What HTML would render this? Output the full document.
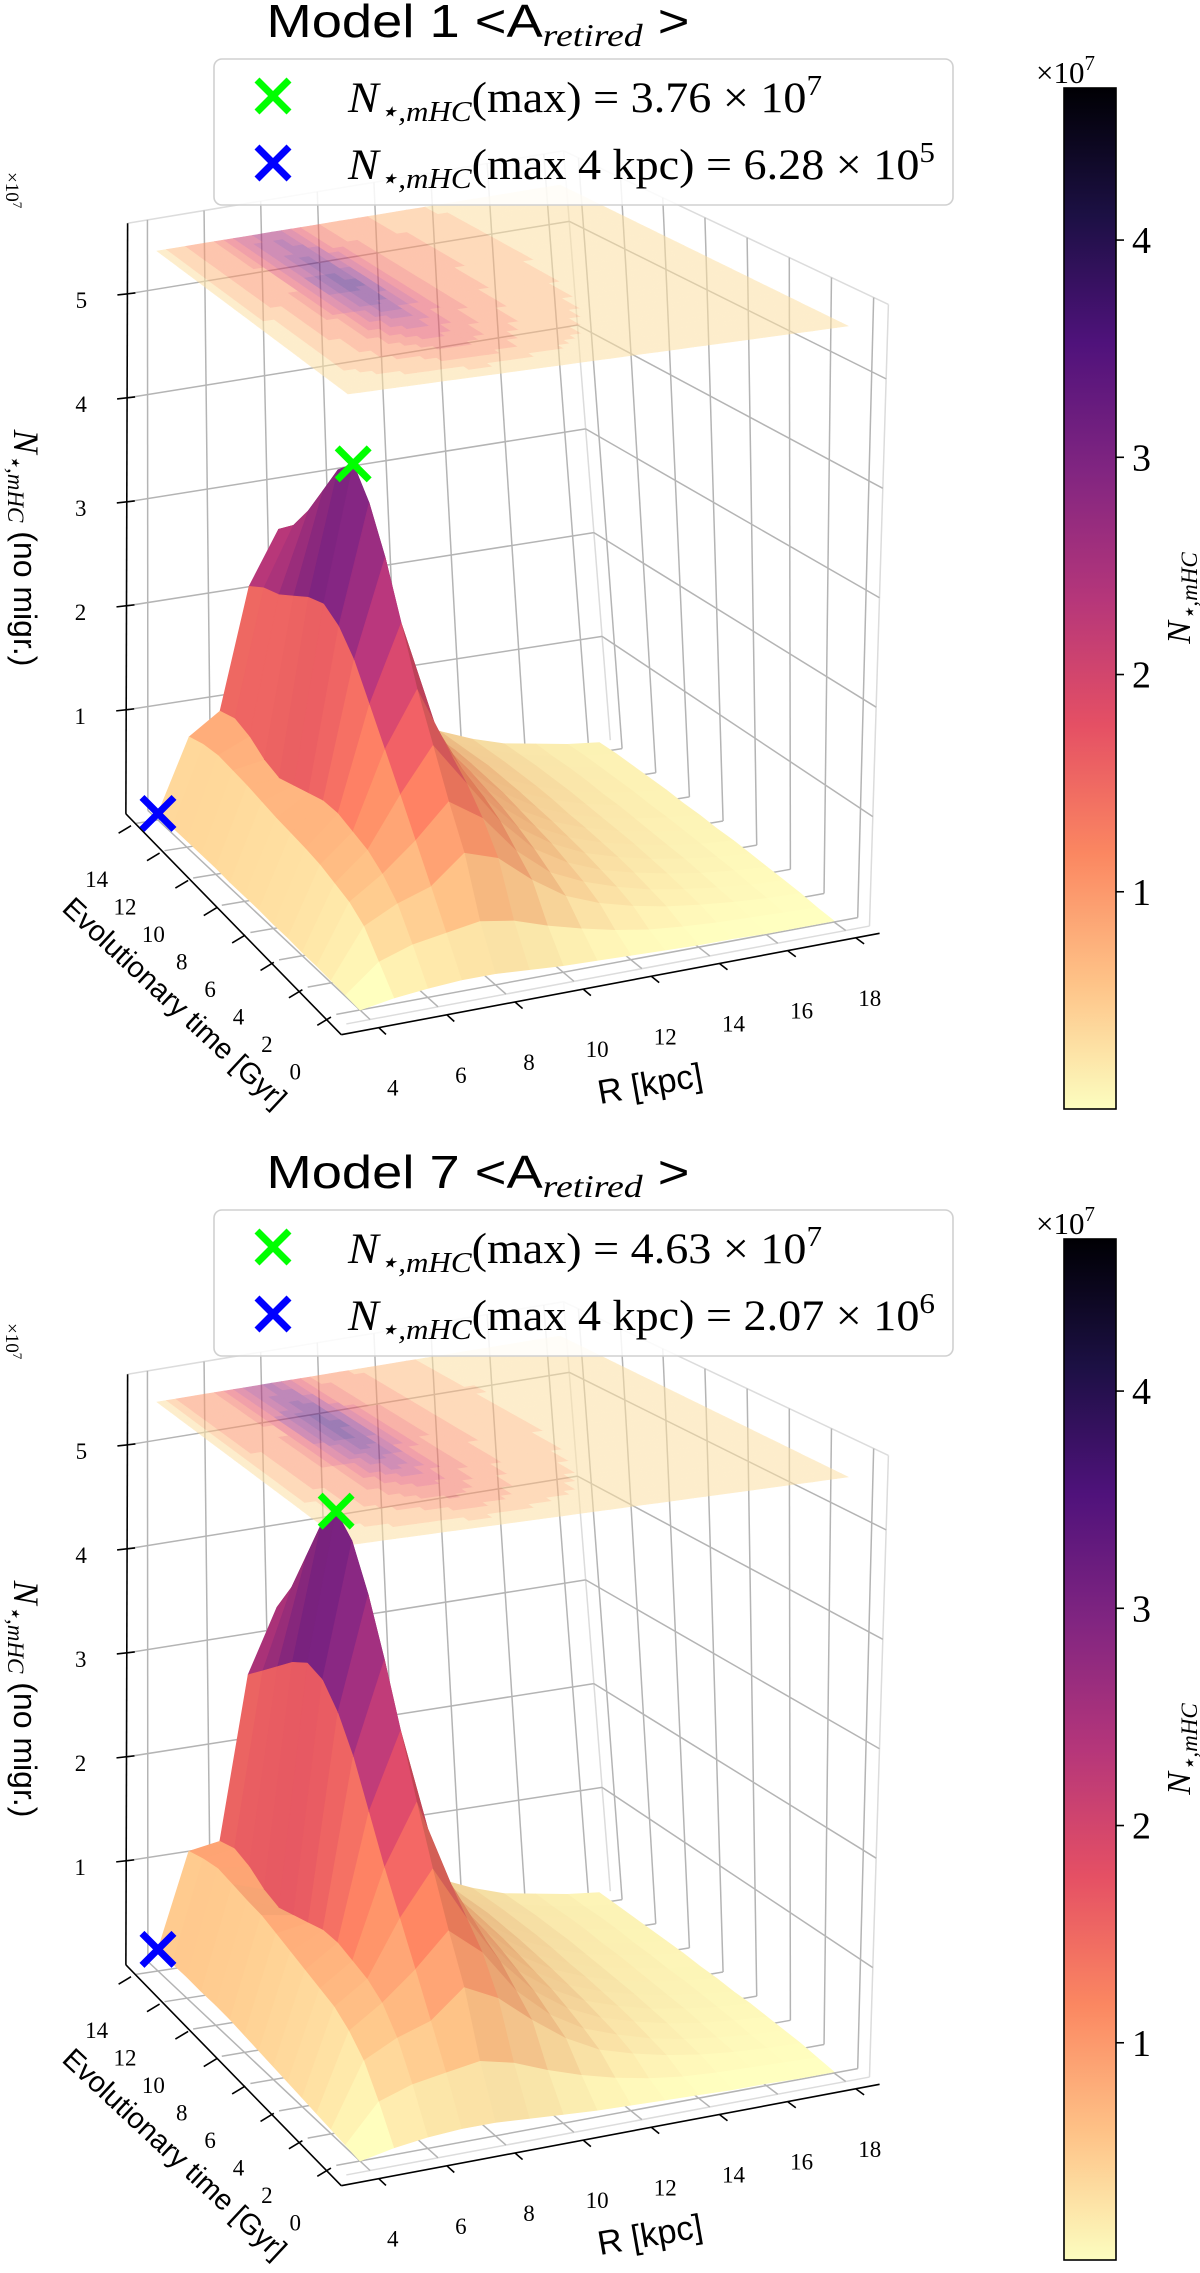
<!DOCTYPE html>
<html><head><meta charset="utf-8"><title>N mHC surfaces</title>
<style>
html,body{margin:0;padding:0;background:#fff;}
svg{display:block;}
</style></head>
<body>
<svg id="fig" xmlns="http://www.w3.org/2000/svg" width="1200" height="2273" viewBox="0 0 1200 2273">
<defs>
<linearGradient id="cbgrad" x1="0" y1="1" x2="0" y2="0">
<stop offset="0" stop-color="#fcfdbf"/><stop offset="0.125" stop-color="#fec287"/>
<stop offset="0.25" stop-color="#fb8761"/><stop offset="0.375" stop-color="#e55064"/>
<stop offset="0.5" stop-color="#b5367a"/><stop offset="0.625" stop-color="#812581"/>
<stop offset="0.75" stop-color="#4f127b"/><stop offset="0.875" stop-color="#1c1044"/>
<stop offset="1" stop-color="#000004"/>
</linearGradient>
</defs>
<g id="panel1"></g>
<g id="panel2"></g>
</svg>
<script>
// ---------- data ----------
const R_VALS = [4,5,6,7,8,9,10,11,12,13,14,15,16,17,18];
const T_VALS = [0,1,2,3,4,5,6,7,8,9,10,11,12,13,14];
const Z_MODEL1 = [
[0.00,0.05,0.08,0.10,0.10,0.08,0.06,0.05,0.04,0.03,0.02,0.02,0.01,0.01,0.01],
[0.01,0.25,0.35,0.40,0.45,0.40,0.30,0.22,0.15,0.10,0.07,0.05,0.04,0.03,0.02],
[0.02,0.45,0.60,0.70,0.95,0.85,0.60,0.40,0.28,0.20,0.14,0.10,0.07,0.05,0.04],
[0.03,0.55,0.75,1.00,1.30,1.10,0.75,0.50,0.36,0.26,0.18,0.13,0.09,0.06,0.05],
[0.03,0.60,0.85,1.30,1.70,1.30,0.90,0.60,0.42,0.30,0.22,0.16,0.11,0.08,0.06],
[0.04,0.65,0.90,1.60,2.10,1.45,1.00,0.68,0.48,0.34,0.25,0.18,0.13,0.09,0.07],
[0.04,0.68,0.95,1.90,2.60,1.60,1.05,0.75,0.52,0.37,0.27,0.20,0.14,0.10,0.08],
[0.05,0.70,0.95,2.20,3.10,1.70,1.10,0.80,0.56,0.40,0.29,0.21,0.15,0.11,0.08],
[0.05,0.72,0.90,2.40,3.50,1.80,1.15,0.85,0.60,0.42,0.30,0.22,0.16,0.12,0.09],
[0.05,0.75,0.85,2.50,3.76,1.85,1.15,0.88,0.62,0.44,0.32,0.23,0.17,0.12,0.09],
[0.06,0.78,0.80,2.45,3.60,1.80,1.12,0.90,0.64,0.45,0.33,0.24,0.17,0.13,0.10],
[0.06,0.80,0.85,2.35,3.30,1.70,1.08,0.90,0.65,0.46,0.33,0.24,0.18,0.13,0.10],
[0.06,0.82,0.95,2.25,3.00,1.60,1.05,0.88,0.64,0.45,0.33,0.24,0.18,0.13,0.10],
[0.06,0.80,1.00,2.20,2.75,1.50,1.00,0.85,0.62,0.44,0.32,0.23,0.17,0.13,0.10],
[0.063,0.75,0.95,2.10,2.60,1.40,0.95,0.80,0.60,0.43,0.31,0.22,0.17,0.12,0.09]];
const Z_MODEL7 = [
[0.00,0.06,0.10,0.12,0.12,0.10,0.08,0.06,0.05,0.04,0.03,0.02,0.02,0.01,0.01],
[0.02,0.35,0.45,0.50,0.55,0.48,0.36,0.26,0.18,0.12,0.08,0.06,0.05,0.04,0.03],
[0.04,0.60,0.75,0.85,1.10,0.95,0.70,0.48,0.32,0.23,0.16,0.11,0.08,0.06,0.05],
[0.06,0.75,0.95,1.20,1.50,1.25,0.85,0.58,0.40,0.29,0.20,0.14,0.10,0.07,0.06],
[0.08,0.85,1.05,1.55,1.95,1.45,1.00,0.68,0.47,0.33,0.24,0.17,0.12,0.09,0.07],
[0.10,0.90,1.10,1.90,2.45,1.65,1.10,0.75,0.53,0.37,0.27,0.19,0.14,0.10,0.08],
[0.12,0.95,1.15,2.30,3.00,1.80,1.15,0.82,0.57,0.40,0.29,0.21,0.15,0.11,0.08],
[0.14,1.00,1.15,2.70,3.55,1.95,1.20,0.88,0.61,0.43,0.31,0.22,0.16,0.12,0.09],
[0.16,1.05,1.10,3.00,4.05,2.05,1.25,0.92,0.65,0.45,0.32,0.23,0.17,0.12,0.09],
[0.18,1.10,1.05,3.20,4.45,2.15,1.28,0.95,0.67,0.47,0.34,0.24,0.18,0.13,0.10],
[0.19,1.12,1.00,3.25,4.63,2.15,1.28,0.97,0.69,0.48,0.35,0.25,0.18,0.13,0.10],
[0.19,1.15,1.05,3.15,4.40,2.05,1.25,0.97,0.70,0.49,0.35,0.25,0.19,0.14,0.10],
[0.20,1.18,1.15,3.00,4.00,1.90,1.20,0.95,0.69,0.48,0.35,0.25,0.19,0.14,0.10],
[0.20,1.15,1.20,2.85,3.60,1.75,1.12,0.92,0.67,0.47,0.34,0.24,0.18,0.13,0.10],
[0.207,1.10,1.15,2.70,3.30,1.60,1.05,0.88,0.65,0.46,0.33,0.23,0.18,0.13,0.10]];
const Z_TICKS = [1,2,3,4,5];
const R_TICKS = [4,6,8,10,12,14,16,18];
const T_TICKS = [0,2,4,6,8,10,12,14];
const CB_TICKS = [1,2,3,4];
const CB_MAX = 4.7;
const MODEL_NAMES = ["1","7"];
const MAX_LABELS = ["3.76","4.63"];
const MAX_EXP = ["7","7"];
const MAX4_LABELS = ["6.28","2.07"];
const MAX4_EXP = ["5","6"];

// ---------- helpers ----------
const NS="http://www.w3.org/2000/svg";
function mk(parent, tag, attrs, text){
  const el=document.createElementNS(NS,tag);
  for(const k in attrs) el.setAttribute(k,attrs[k]);
  if(text!==undefined) el.textContent=text;
  parent.appendChild(el); return el;
}
const MAGMA=[[0,0,4],[28,16,68],[79,18,123],[129,37,129],[181,54,122],[229,80,100],[251,135,97],[254,194,135],[252,253,191]];
function magma(x){x=Math.max(0,Math.min(1,x));const p=x*8;const i=Math.min(7,Math.floor(p));const f=p-i;const a=MAGMA[i],b=MAGMA[i+1];
  return [a[0]+(b[0]-a[0])*f,a[1]+(b[1]-a[1])*f,a[2]+(b[2]-a[2])*f];}
function rgb(c,k){k=k||1;return "rgb("+c.map(v=>Math.max(0,Math.min(255,Math.round(v*k)))).join(",")+")";}

const FL=[[360,1010],[834,922],[158,820],[600,752]];
const TP=[[348,394],[848,326],[157,251],[560,185]];
const ZREF=5.45, ZCONT=5.45;
const RLO=3.3,RHI=18.7,TLO=-0.7,THI=14.7,ZHI=5.68;
function bil(P,u,v){return [P[0][0]*(1-u)*(1-v)+P[1][0]*u*(1-v)+P[2][0]*(1-u)*v+P[3][0]*u*v,
  P[0][1]*(1-u)*(1-v)+P[1][1]*u*(1-v)+P[2][1]*(1-u)*v+P[3][1]*u*v];}
function proj(R,t,z,oy){const u=(R-4)/14,v=t/14;const f=bil(FL,u,v),g=bil(TP,u,v);const k=z/ZREF;
  return [f[0]+k*(g[0]-f[0]), f[1]+k*(g[1]-f[1])+oy];}
function pstr(pts){return pts.map(p=>p[0].toFixed(1)+","+p[1].toFixed(1)).join(" ");}

function drawPanel(g, Z, idx, oy){
  let zmax=0,imax=0,jmax=0;
  Z.forEach((row,i)=>row.forEach((v,j)=>{if(v>zmax){zmax=v;imax=i;jmax=j;}}));
  let b4=0,ib=0; Z.forEach((row,i)=>{if(row[0]>b4){b4=row[0];ib=i;}});
  const vmaxS=zmax*1.3;

  const grid=mk(g,'g',{stroke:'#b4b4b4','stroke-width':1.5,fill:'none'});
  
  
  const ln=(a,b,extra)=>mk(grid,'line',Object.assign({x1:a[0],y1:a[1],x2:b[0],y2:b[1]},extra||{}));
  const edge={stroke:'#dcdcdc'};
  ln(proj(RLO,THI,ZHI,oy),proj(RHI,THI,ZHI,oy),edge);
  ln(proj(RHI,THI,ZHI,oy),proj(RHI,TLO,ZHI,oy),edge);
  ln(proj(RHI,THI,0,oy),proj(RHI,THI,ZHI,oy),edge);
  ln(proj(RHI,TLO,0,oy),proj(RHI,TLO,ZHI,oy),edge);
  ln(proj(RLO,TLO,0,oy),proj(RHI,TLO,0,oy),edge);
  R_TICKS.forEach(r=>{ln(proj(r,TLO,0,oy),proj(r,THI,0,oy));ln(proj(r,THI,0,oy),proj(r,THI,ZHI,oy));});
  T_TICKS.forEach(t=>{ln(proj(RLO,t,0,oy),proj(RHI,t,0,oy));ln(proj(RHI,t,0,oy),proj(RHI,t,ZHI,oy));});
  Z_TICKS.forEach(z=>{ln(proj(RLO,THI,z,oy),proj(RHI,THI,z,oy));ln(proj(RHI,THI,z,oy),proj(RHI,TLO,z,oy));});

  const cont=mk(g,'g',{opacity:0.55});
  
  
  const SUB=3, NLEV=11;
  for(let i=0;i<T_VALS.length-1;i++)for(let j=0;j<R_VALS.length-1;j++){
    for(let a=0;a<SUB;a++)for(let b=0;b<SUB;b++){
      const fu=(b+0.5)/SUB,fv=(a+0.5)/SUB;
      const zc=Z[i][j]*(1-fu)*(1-fv)+Z[i][j+1]*fu*(1-fv)+Z[i+1][j]*(1-fu)*fv+Z[i+1][j+1]*fu*fv;
      const lev=Math.floor(zc/zmax*(NLEV-1)+0.0001)/(NLEV-1)*zmax;
      const r0=R_VALS[j]+(R_VALS[j+1]-R_VALS[j])*b/SUB, r1=R_VALS[j]+(R_VALS[j+1]-R_VALS[j])*(b+1)/SUB;
      const t0=T_VALS[i]+(T_VALS[i+1]-T_VALS[i])*a/SUB, t1=T_VALS[i]+(T_VALS[i+1]-T_VALS[i])*(a+1)/SUB;
      const col=rgb(magma(1-(lev+0.08*zmax)/(zmax*1.3)));
      const p=mk(cont,'polygon',{points:pstr([proj(r0,t0,ZCONT,oy),proj(r1,t0,ZCONT,oy),proj(r1,t1,ZCONT,oy),proj(r0,t1,ZCONT,oy)]),fill:col,stroke:col,'stroke-width':0.6});
      
      
    }
  }

  const surf=mk(g,'g',{});
  
  
  const quads=[];
  for(let i=0;i<T_VALS.length-1;i++)for(let j=0;j<R_VALS.length-1;j++){
    const c=[[j,i],[j+1,i],[j+1,i+1],[j,i+1]];
    const pts=c.map(([jj,ii])=>proj(R_VALS[jj],T_VALS[ii],Z[ii][jj],oy));
    const za=(Z[i][j]+Z[i][j+1]+Z[i+1][j]+Z[i+1][j+1])/4;
    const dR=((Z[i][j+1]+Z[i+1][j+1])-(Z[i][j]+Z[i+1][j]))/2;
    const dT=((Z[i+1][j]+Z[i+1][j+1])-(Z[i][j]+Z[i][j+1]))/2;
    let n=[-dR*105/33,-dT*105/20,1];const nl=Math.hypot(...n);n=n.map(v=>v/nl);
    const L=[-0.55,-0.35,0.76];const sh=n[0]*L[0]+n[1]*L[1]+n[2]*L[2];
    const k=Math.min(1.04,0.86+0.2*sh);
    const depth=proj((R_VALS[j]+R_VALS[j+1])/2,(T_VALS[i]+T_VALS[i+1])/2,0,0)[1];
    quads.push({pts,col:rgb(magma(1-za/vmaxS),k),depth});
  }
  quads.sort((a,b)=>a.depth-b.depth);
  quads.forEach(q=>{const p=mk(surf,'polygon',{points:pstr(q.pts),fill:q.col,stroke:q.col,'stroke-width':0.7,'stroke-linejoin':'round'});
    
    });

  const ax=mk(g,'g',{stroke:'#000','stroke-width':1.6,fill:'none'});
  
  
  const A0=proj(RLO,THI,0,oy),A1=proj(RLO,THI,ZHI,oy),B0=proj(RLO-0.4,TLO-0.6,0,oy),C0=proj(RHI,TLO-0.6,0,oy);
  mk(ax,'line',{x1:A0[0],y1:A0[1],x2:A1[0],y2:A1[1]});
  mk(ax,'line',{x1:A0[0],y1:A0[1],x2:B0[0],y2:B0[1]});
  mk(ax,'line',{x1:B0[0],y1:B0[1],x2:C0[0],y2:C0[1]});
  const lab=mk(g,'g',{'font-family':'"Liberation Serif",serif','font-size':23,fill:'#000','text-anchor':'middle'});
  
  
  Z_TICKS.forEach(z=>{const p=proj(RLO,THI,z,oy);mk(ax,'line',{x1:p[0]-10,y1:p[1]+1,x2:p[0]+8,y2:p[1]-1});
    const tx=mk(lab,'text',{x:p[0]-46,y:p[1]+14},String(z));
    
    });
  T_TICKS.forEach(t=>{const s=proj(RLO-0.2,t-0.1,0,oy),e=proj(RLO-0.75,t-0.45,0,oy);mk(ax,'line',{x1:s[0],y1:s[1],x2:e[0],y2:e[1]});
    const tx=mk(lab,'text',{x:e[0]-22,y:e[1]+54},String(t));
    
    });
  R_TICKS.forEach(r=>{const s=proj(r,TLO-0.6,0,oy),e=proj(r,TLO-1.1,0,oy);mk(ax,'line',{x1:s[0],y1:s[1],x2:e[0],y2:e[1]});
    const tx=mk(lab,'text',{x:s[0]+14,y:s[1]+68},String(r));
    
    });

  const gp=proj(R_VALS[jmax],T_VALS[imax],zmax,oy);
  const bp=proj(R_VALS[0],T_VALS[ib],b4,oy);
  [[gp,'#00ff00','max-marker'],[bp,'#0000ff','max-4kpc-marker']].forEach(([p,c,nm])=>{
    const m=mk(g,'path',{d:`M${p[0]-16},${p[1]-16}L${p[0]+16},${p[1]+16}M${p[0]-16},${p[1]+16}L${p[0]+16},${p[1]-16}`,stroke:c,'stroke-width':7,fill:'none'});
    
    
  });
}

function staticPanel(g, idx, oy){
  const title=mk(g,'text',{x:478,y:37+oy,'font-family':'"Liberation Sans",sans-serif','font-size':46,'text-anchor':'middle',textLength:423,lengthAdjust:'spacingAndGlyphs'});
  
  
  mk(title,'tspan',{},"Model "+MODEL_NAMES[idx]+" <A");
  mk(title,'tspan',{'font-family':'"Liberation Serif",serif','font-style':'italic','font-size':32,dy:9},"retired");
  mk(title,'tspan',{dy:-9}," >");

  const leg=mk(g,'g',{});
  
  
  mk(leg,'rect',{x:214,y:59+oy,width:739,height:146,rx:8,fill:'#fff','fill-opacity':0.85,stroke:'#d0d0d0','stroke-width':1.6});
  const rows=[[96,'#00ff00',"(max) = "+MAX_LABELS[idx]+" × 10",MAX_EXP[idx],'legend-entry-max',474],
              [163,'#0000ff',"(max 4 kpc) = "+MAX4_LABELS[idx]+" × 10",MAX4_EXP[idx],'legend-entry-max-4kpc',587]];
  rows.forEach(([cy,c,txt,ex,nm,tl])=>{
    const e=mk(leg,'g',{});
    
    
    const y=cy+oy;
    mk(e,'path',{d:`M257,${y-16}L289,${y+16}M257,${y+16}L289,${y-16}`,stroke:c,'stroke-width':7,fill:'none'});
    const t=mk(e,'text',{x:348,y:y+16,'font-family':'"Liberation Serif",serif','font-size':43,textLength:tl,lengthAdjust:'spacingAndGlyphs'});
    mk(t,'tspan',{'font-style':'italic'},"N");
    mk(t,'tspan',{'font-style':'italic','font-size':29,dy:9},"⋆,mHC");
    mk(t,'tspan',{dy:-9},txt);
    mk(t,'tspan',{'font-size':29,dy:-17},ex);
  });

  const zl=mk(g,'text',{'text-anchor':'middle','font-size':32,'font-family':'"Liberation Sans",sans-serif'});
  
  
  zl.setAttribute('transform',`translate(14,${548+oy}) rotate(90)`);
  mk(zl,'tspan',{'font-family':'"Liberation Serif",serif','font-style':'italic','font-size':36},"N");
  mk(zl,'tspan',{'font-family':'"Liberation Serif",serif','font-style':'italic','font-size':23,dy:6},"⋆,mHC");
  mk(zl,'tspan',{dy:-6}," (no migr.)");
  const zo=mk(g,'text',{transform:`translate(6,${172+oy}) rotate(90)`,'font-size':19,'font-family':'"Liberation Serif",serif'});
  
  
  mk(zo,'tspan',{},"×10");
  mk(zo,'tspan',{'font-size':13,dy:-7},"7");

  const tl=mk(g,'text',{transform:`translate(168,${1010+oy}) rotate(43)`,'text-anchor':'middle','font-size':29,'font-family':'"Liberation Sans",sans-serif'},"Evolutionary time [Gyr]");
  
  
  const rl=mk(g,'text',{transform:`translate(652,${1095+oy}) rotate(-10)`,'text-anchor':'middle','font-size':34,'font-family':'"Liberation Sans",sans-serif'},"R [kpc]");
  
  

  const cb=mk(g,'g',{});
  
  
  const top=88+oy,bot=1109+oy;
  mk(cb,'rect',{x:1064,y:top,width:52,height:bot-top,fill:'url(#cbgrad)',stroke:'#000','stroke-width':1.6});
  CB_TICKS.forEach(v=>{const y=bot-(v/CB_MAX)*(bot-top);
    mk(cb,'line',{x1:1116,y1:y,x2:1124,y2:y,stroke:'#000','stroke-width':1.6});
    const t=mk(cb,'text',{x:1132,y:y+13,'font-size':38,'font-family':'"Liberation Serif",serif'},String(v));
    
    });
  const co=mk(cb,'text',{x:1036,y:83+oy,'font-size':31,'font-family':'"Liberation Serif",serif'});
  
  
  mk(co,'tspan',{},"×10");
  mk(co,'tspan',{'font-size':21,dy:-13},"7");
  const cl=mk(cb,'text',{transform:`translate(1190,${598+oy}) rotate(-90)`,'text-anchor':'middle','font-size':34,'font-family':'"Liberation Serif",serif','font-style':'italic'});
  
  
  mk(cl,'tspan',{},"N");
  mk(cl,'tspan',{'font-size':23,dy:7},"⋆,mHC");
}

const p1=document.getElementById('panel1'), p2=document.getElementById('panel2');
drawPanel(p1,Z_MODEL1,0,0); staticPanel(p1,0,0);
drawPanel(p2,Z_MODEL7,1,1151); staticPanel(p2,1,1151);
</script>
</body></html>
